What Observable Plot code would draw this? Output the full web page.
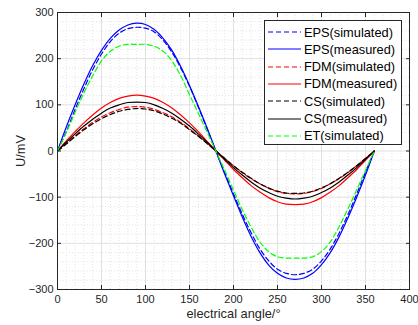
<!DOCTYPE html>
<html>
<head>
<meta charset="utf-8">
<script src="https://cdn.jsdelivr.net/npm/d3@7"></script>
<script src="https://cdn.jsdelivr.net/npm/@observablehq/plot@0.6"></script>
<style>
  html, body { margin: 0; padding: 0; background: #fff; }
  #wrap { position: relative; width: 418px; height: 325px; font-family: "Liberation Sans", Arial, sans-serif; }
  #legend { position: absolute; left: 264px; top: 20px; width: 136px; height: 123px; background: #fff; border: 1px solid #262626; }
  .row { position: absolute; left: 0; height: 17px; display: flex; align-items: center; font-size: 12.8px; color: #000; white-space: nowrap; }
  .row svg { margin-left: 3px; margin-right: 3px; }
</style>
</head>
<body>
<div id="wrap"><div id="chart"></div><div id="legend"></div></div>
<script>
const angles = [0,10,20,30,40,50,60,70,80,90,100,110,120,130,140,150,160,170,180,190,200,210,220,230,240,250,260,270,280,290,300,310,320,330,340,350,360];

const epsSimulated = [0,42,90,135,176,210,237,255,265,268,266,258,240,214,180,140,95,48,0,-47,-93,-137,-177,-212,-238,-256,-265,-268,-265,-256,-238,-212,-178,-138,-93,-46,0];
const epsMeasured  = [0,52,100,145,185,218,244,262,273,277,274,263,244,218,183,142,97,50,0,-50,-97,-143,-185,-220,-247,-265,-275,-278,-275,-265,-246,-220,-186,-145,-100,-52,0];
const fdmSimulated = [0,17,33,48,62,74,83,90,95,96,95,90,83,74,62,48,33,17,0,-16,-32,-47,-60,-71,-81,-88,-92,-93,-92,-88,-81,-71,-60,-47,-32,-16,0];
const fdmMeasured  = [0,22,42,61,78,93,105,114,119,121,119,114,105,93,78,61,42,21,0,-20,-40,-58,-75,-89,-101,-110,-115,-116,-115,-110,-101,-89,-75,-58,-40,-20,0];
const csSimulated  = [0,15,31,46,59,70,79,86,90,92,91,87,80,71,60,46,32,16,0,-16,-32,-46,-59,-71,-80,-87,-91,-92,-91,-87,-80,-71,-59,-46,-32,-16,0];
const csMeasured   = [0,19,37,54,69,82,93,100,105,106,105,100,92,82,69,54,37,19,0,-18,-36,-52,-67,-80,-90,-98,-102,-104,-102,-98,-90,-80,-67,-52,-36,-18,0];
const etSimulated  = [0,40,84,126,163,195,216,227,231,231,231,227,216,195,163,122,82,41,0,-42,-85,-127,-165,-197,-218,-229,-232,-232,-232,-229,-218,-197,-164,-125,-84,-42,0];

const seriesNames = ["EPS(simulated)","EPS(measured)","FDM(simulated)","FDM(measured)","CS(simulated)","CS(measured)","ET(simulated)"];
const seriesValues = [epsSimulated, epsMeasured, fdmSimulated, fdmMeasured, csSimulated, csMeasured, etSimulated];
const seriesColors = ["#0000ff","#0000ff","#ff0000","#ff0000","#000000","#000000","#00ff00"];
const seriesDashed = [true,false,true,false,true,false,true];

const xTicks = [0,50,100,150,200,250,300,350,400];
const yTicks = [-300,-200,-100,0,100,200,300];
const xMinor = [10,20,30,40,60,70,80,90,110,120,130,140,160,170,180,190,210,220,230,240,260,270,280,290,310,320,330,340,360,370,380,390];
const yMinor = [-280,-260,-240,-220,-180,-160,-140,-120,-80,-60,-40,-20,20,40,60,80,120,140,160,180,220,240,260,280];

const xLabel = "electrical angle/°";
const yLabel = "U/mV";

const dash = "5,3";
const axisColor = "#262626";

const lineMarks = seriesValues.map((vals, k) =>
  Plot.line(vals, {
    x: (d, i) => angles[i],
    y: d => d,
    stroke: seriesColors[k],
    strokeWidth: 1.2,
    strokeDasharray: seriesDashed[k] ? dash : null,
    curve: "catmull-rom"
  })
);

const chart = Plot.plot({
  width: 418,
  height: 325,
  marginLeft: 57,
  marginRight: 9,
  marginTop: 12,
  marginBottom: 36,
  style: { fontFamily: "'Liberation Sans', Arial, sans-serif", background: "#fff", color: axisColor },
  x: { domain: [0, 400] },
  y: { domain: [-300, 300] },
  marks: [
    Plot.ruleX(xMinor, { stroke: "#e4e4e4", strokeDasharray: "1,2" }),
    Plot.ruleY(yMinor, { stroke: "#e4e4e4", strokeDasharray: "1,2" }),
    Plot.ruleX(xTicks, { stroke: "#e0e0e0" }),
    Plot.ruleY(yTicks, { stroke: "#e0e0e0" }),
    ...lineMarks,
    Plot.frame({ stroke: axisColor, strokeWidth: 1 }),
    Plot.axisX(xTicks, { anchor: "bottom", tickSize: 4, dy: -4, text: null, label: null, stroke: axisColor }),
    Plot.axisX(xTicks, { anchor: "top", tickSize: 4, dy: 4, text: null, label: null, stroke: axisColor }),
    Plot.axisY(yTicks, { anchor: "left", tickSize: 4, dx: 4, text: null, label: null, stroke: axisColor }),
    Plot.axisY(yTicks, { anchor: "right", tickSize: 4, dx: -4, text: null, label: null, stroke: axisColor }),
    Plot.axisX(xTicks, { anchor: "bottom", tickSize: 0, tickPadding: 6, fontSize: 11, label: null, fill: axisColor }),
    Plot.axisY(yTicks, { anchor: "left", tickSize: 0, tickPadding: 4, fontSize: 11, label: null, fill: axisColor }),
    Plot.text([xLabel], { text: d => d, frameAnchor: "bottom", lineAnchor: "middle", textAnchor: "middle", dy: 24, fontSize: 12.8, fill: axisColor }),
    Plot.text([yLabel], { text: d => d, frameAnchor: "left", lineAnchor: "middle", textAnchor: "middle", dx: -37, rotate: -90, fontSize: 12.8, fill: axisColor })
  ]
});
document.getElementById("chart").appendChild(chart);

const legend = document.getElementById("legend");
seriesNames.forEach((name, k) => {
  const row = document.createElement("div");
  row.className = "row";
  row.style.top = (2.5 + k * 17.33) + "px";
  const ns = "http://www.w3.org/2000/svg";
  const svg = document.createElementNS(ns, "svg");
  svg.setAttribute("width", 33);
  svg.setAttribute("height", 4);
  const ln = document.createElementNS(ns, "line");
  ln.setAttribute("x1", 0); ln.setAttribute("x2", 33);
  ln.setAttribute("y1", 2); ln.setAttribute("y2", 2);
  ln.setAttribute("stroke", seriesColors[k]);
  ln.setAttribute("stroke-width", 1.2);
  if (seriesDashed[k]) ln.setAttribute("stroke-dasharray", dash);
  svg.appendChild(ln);
  row.appendChild(svg);
  const span = document.createElement("span");
  span.textContent = name;
  row.appendChild(span);
  legend.appendChild(row);
});
</script>
</body>
</html>
